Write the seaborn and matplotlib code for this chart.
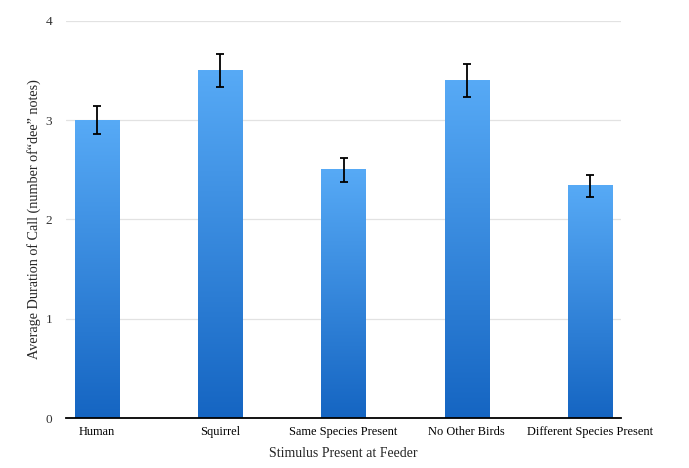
import numpy as np
import pandas as pd
import seaborn as sns
import matplotlib.pyplot as plt
from matplotlib.colors import LinearSegmentedColormap

# data
stimulus = ["Human", "Squirrel", "Same Species Present", "No Other Birds", "Different Species Present"]
avg_duration = [3.0, 3.5, 2.5, 3.4, 2.34]
std_error = [0.145, 0.165, 0.12, 0.165, 0.11]

df = pd.DataFrame({"Stimulus": stimulus, "Duration": avg_duration, "SE": std_error})

sns.set_theme(style="white")
plt.rcParams["font.family"] = ["Liberation Serif", "DejaVu Serif"]

fig = plt.figure(figsize=(6.89, 4.68), dpi=100)
ax = fig.add_axes([0.0958, 0.1068, 0.8055, 0.849])

sns.barplot(data=df, x="Stimulus", y="Duration", color="#3d8fe6", width=0.357,
            errorbar=None, ax=ax, zorder=2)

# swap flat bars for a vertical gradient (light on top, dark at bottom)
grad_cmap = LinearSegmentedColormap.from_list("blue_grad", ["#1565c2", "#57aaf6"])
grad = np.linspace(0, 1, 256).reshape(-1, 1)
for p in ax.patches:
    x0, w, h = p.get_x(), p.get_width(), p.get_height()
    p.set_visible(False)
    ax.imshow(grad, cmap=grad_cmap, origin="lower", aspect="auto",
              extent=(x0, x0 + w, 0, h), zorder=2)

ax.errorbar(x=range(len(df)), y=df["Duration"], yerr=df["SE"], fmt="none",
            ecolor="black", elinewidth=1.3, capsize=2.6, capthick=1.3, zorder=3)

ax.set_xlim(-0.25, 4.25)
ax.set_ylim(0, 4)
ax.set_yticks([0, 1, 2, 3, 4])
ax.yaxis.grid(True, color="#e2e2e2", linewidth=0.9, zorder=0)
ax.set_axisbelow(True)

for side in ["left", "right", "top"]:
    ax.spines[side].set_visible(False)
ax.spines["bottom"].set_color("black")
ax.spines["bottom"].set_linewidth(1.3)

ax.tick_params(axis="x", length=0, labelsize=8.9, pad=6, colors="black")
ax.tick_params(axis="y", length=0, labelsize=9.5, pad=10, colors="#333333")

ax.set_xlabel("Stimulus Present at Feeder", fontsize=10, labelpad=6)
ax.set_ylabel("Average Duration of Call (number of\u201cdee\u201d notes)", fontsize=10.2, labelpad=3)

fig.savefig("out.png", dpi=100)
